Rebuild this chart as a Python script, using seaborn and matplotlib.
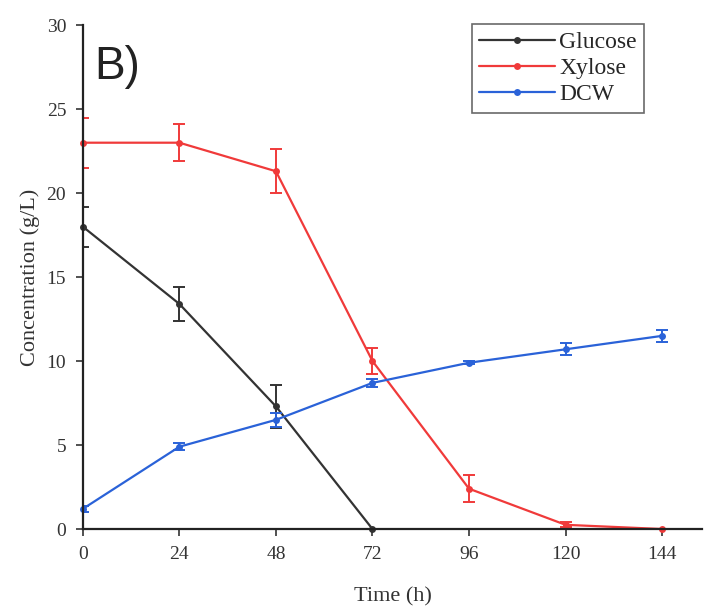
import numpy as np
import pandas as pd
import matplotlib
matplotlib.use("Agg")
import matplotlib.pyplot as plt
import seaborn as sns

time_h = [0, 24, 48, 72, 96, 120, 144]
glucose_t = [0, 24, 48, 72]
glucose = [18.0, 13.4, 7.3, 0.0]
glucose_err = [1.2, 1.0, 1.3, 0.0]
xylose = [23.0, 23.0, 21.3, 10.0, 2.4, 0.25, 0.0]
xylose_err = [1.5, 1.1, 1.3, 0.8, 0.8, 0.15, 0.0]
dcw = [1.2, 4.9, 6.5, 8.7, 9.9, 10.7, 11.5]
dcw_err = [0.2, 0.2, 0.4, 0.25, 0.1, 0.35, 0.35]
series_names = ["Glucose", "Xylose", "DCW"]
colors = ["#333333", "#f03a3a", "#2a62d8"]

sns.set_theme(style="ticks")
plt.rcParams["font.family"] = ["Liberation Serif", "DejaVu Serif"]

df = pd.concat([
    pd.DataFrame({"Time": glucose_t, "Conc": glucose, "err": glucose_err, "Series": "Glucose"}),
    pd.DataFrame({"Time": time_h, "Conc": xylose, "err": xylose_err, "Series": "Xylose"}),
    pd.DataFrame({"Time": time_h, "Conc": dcw, "err": dcw_err, "Series": "DCW"}),
])

fig = plt.figure(figsize=(7.08, 6.13), dpi=100)
ax = fig.add_axes([0.117, 0.137, 0.875, 0.822])

pal = dict(zip(series_names, colors))
sns.lineplot(data=df, x="Time", y="Conc", hue="Series", hue_order=series_names,
             palette=pal, marker="o", markersize=5, markeredgewidth=0,
             linewidth=1.6, ax=ax, legend=True, clip_on=False)
for name in series_names:
    sub = df[df["Series"] == name]
    ax.errorbar(sub["Time"], sub["Conc"], yerr=sub["err"], fmt="none",
                ecolor=pal[name], elinewidth=1.4, capsize=4, capthick=1.4)

ax.set_xlim(0, 154)
ax.set_ylim(0, 30)
ax.set_xticks(time_h)
ax.set_yticks([0, 5, 10, 15, 20, 25, 30])
ax.tick_params(axis="both", labelsize=14, length=5, width=1.2, direction="out",
               colors="#333333", pad=7)
for s in ["top", "right"]:
    ax.spines[s].set_visible(False)
for s in ["left", "bottom"]:
    ax.spines[s].set_linewidth(1.6)
    ax.spines[s].set_color("#222222")
ax.set_xlabel("Time (h)", fontsize=16, color="#333333", labelpad=18)
ax.set_ylabel("Concentration (g/L)", fontsize=16, color="#333333", labelpad=5)

ax.text(0.018, 0.96, "B)", transform=ax.transAxes, fontsize=33,
        family=["Liberation Sans", "DejaVu Sans"], va="top", ha="left", color="#222222")

leg = ax.legend(loc="upper right", bbox_to_anchor=(0.925, 1.025), fontsize=17,
                frameon=True, fancybox=False, edgecolor="#444444",
                handlelength=3.2, handletextpad=0.2, borderpad=0.3, labelspacing=0.2)
leg.get_frame().set_linewidth(1.2)

fig.savefig("out.png", dpi=100)
